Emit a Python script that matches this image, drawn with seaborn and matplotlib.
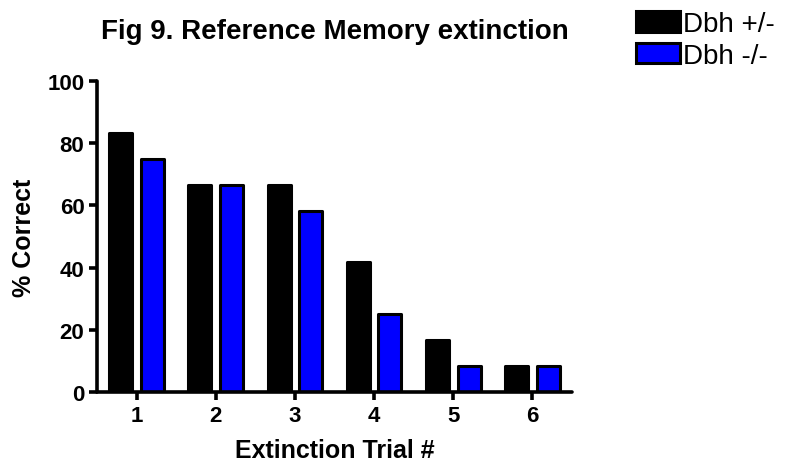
import pandas as pd
import matplotlib
matplotlib.use('Agg')
import matplotlib.pyplot as plt
import seaborn as sns
from matplotlib.patches import Patch

# data
trials = ['1', '2', '3', '4', '5', '6']
het = [83.3, 66.7, 66.7, 41.7, 16.7, 8.3]   # Dbh +/-
ko = [75.0, 66.7, 58.3, 25.0, 8.3, 8.3]     # Dbh -/-
groups = ['Dbh +/-', 'Dbh -/-']
colors = ['black', 'blue']

df = pd.DataFrame({
    'trial': trials * 2,
    'pct': het + ko,
    'geno': [groups[0]] * len(trials) + [groups[1]] * len(trials),
})

sns.set_style('white')
plt.rcParams['font.family'] = ['Liberation Sans', 'DejaVu Sans']
plt.rcParams.update({'text.color': 'black', 'axes.labelcolor': 'black',
                     'xtick.color': 'black', 'ytick.color': 'black',
                     'axes.edgecolor': 'black'})

fig = plt.figure(figsize=(7.93, 4.64), dpi=100)
ax = fig.add_axes([0.1223, 0.153, 0.599, 0.670])

sns.barplot(data=df, x='trial', y='pct', hue='geno', hue_order=groups,
            palette=colors, saturation=1, edgecolor='black', linewidth=2.2,
            gap=0.27, width=0.8, ax=ax, legend=False)
for p in ax.patches:
    p.set_joinstyle('round')

ax.set_xlim(-0.5, 5.5)
ax.set_ylim(0, 100)
ax.set_yticks([0, 20, 40, 60, 80, 100])
sns.despine(ax=ax)
for s in ['left', 'bottom']:
    ax.spines[s].set_linewidth(2.6)
    ax.spines[s].set_capstyle('round')
ax.tick_params(axis='both', direction='out', length=6, width=2.6,
               labelsize=16, pad=3, left=True, bottom=True)
for lbl in ax.get_xticklabels() + ax.get_yticklabels():
    lbl.set_fontweight('bold')

ax.set_xlabel('Extinction Trial #', fontsize=18, fontweight='bold', labelpad=9)
ax.set_ylabel('% Correct', fontsize=18, fontweight='bold', labelpad=8)
fig.text(0.422, 0.93, 'Fig 9. Reference Memory extinction', fontsize=20,
         fontweight='bold', ha='center', va='center')

handles = [Patch(facecolor=c, edgecolor='black', linewidth=2.2) for c in colors]
fig.legend(handles, groups, loc='upper left', bbox_to_anchor=(0.774, 1.022),
           frameon=False, fontsize=20, handlelength=1.6, handleheight=0.75,
           handletextpad=0.1, labelspacing=0.2, borderpad=0.3)

fig.savefig('out.png', dpi=100)
